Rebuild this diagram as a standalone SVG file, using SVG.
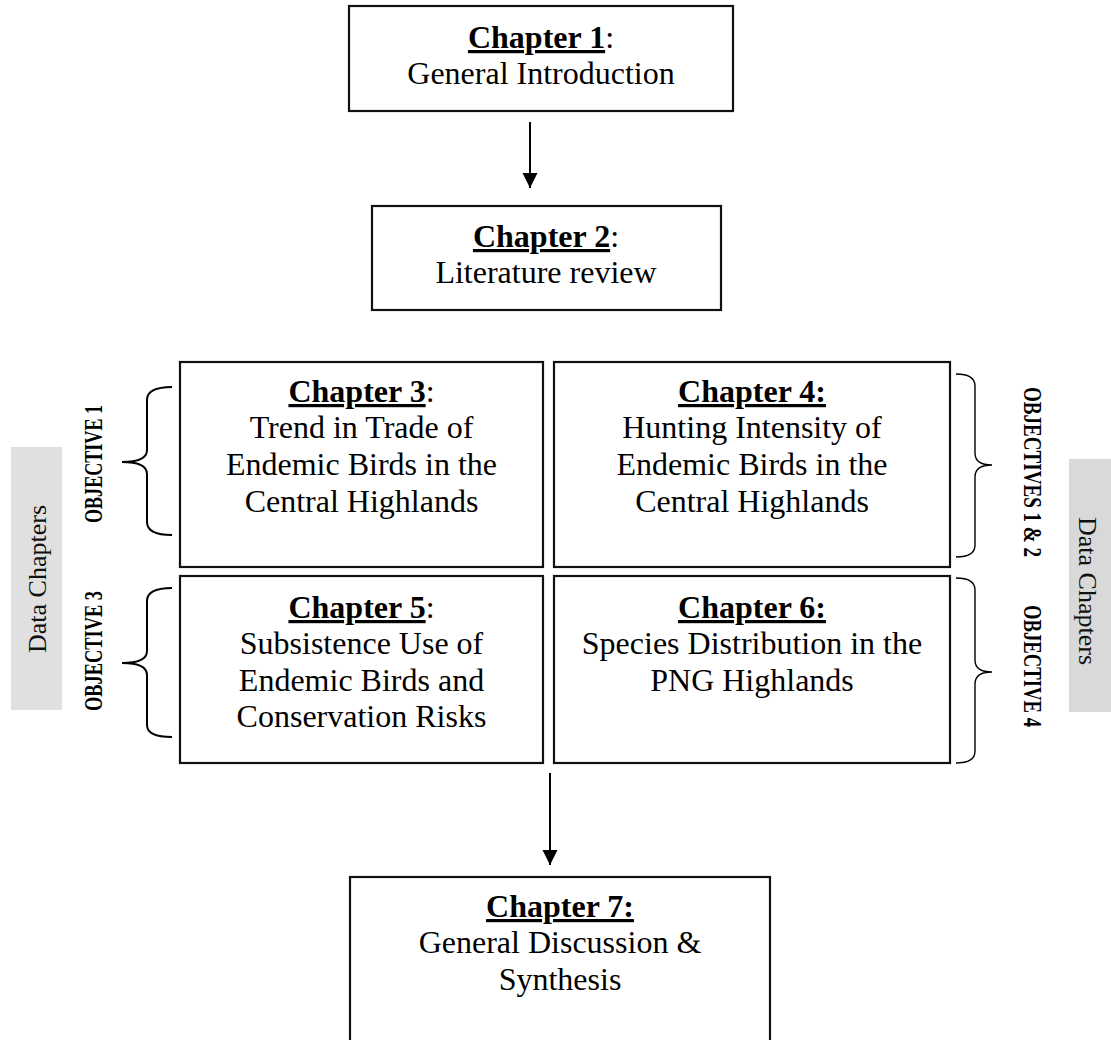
<svg xmlns="http://www.w3.org/2000/svg" width="1111" height="1040" viewBox="0 0 1111 1040">
<defs>
<marker id="ah" markerUnits="userSpaceOnUse" markerWidth="16" markerHeight="16" refX="15" refY="7.5" orient="auto">
<path d="M0,0 L15,7.5 L0,15 z" fill="#000"/>
</marker>
<style>
.box{fill:#fff;stroke:#111;stroke-width:2.2}
.t{font-family:"Liberation Serif","Times New Roman",serif;font-size:32px;fill:#000;text-anchor:middle}
.h{font-weight:bold;text-decoration:underline}
.obj{font-family:"Liberation Serif","Times New Roman",serif;font-weight:bold;font-size:25px;fill:#000;text-anchor:middle}
.dc{font-family:"Liberation Serif","Times New Roman",serif;font-size:26px;fill:#111;text-anchor:middle}
.br{fill:none;stroke:#000;stroke-width:2}
.brr{fill:none;stroke:#000;stroke-width:1.4}
.conn{stroke:#000;stroke-width:2;fill:none}
</style>
</defs>
<rect width="1111" height="1040" fill="#fff"/>

<g id="ch1">
<rect class="box" x="349" y="6" width="384" height="105"/>
<text class="t" x="541" y="48"><tspan class="h">Chapter 1</tspan>:</text>
<text class="t" x="541" y="84">General Introduction</text>
</g>

<g id="ch2">
<rect class="box" x="372" y="206" width="349" height="104"/>
<text class="t" x="546" y="247"><tspan class="h">Chapter 2</tspan>:</text>
<text class="t" x="546" y="283">Literature review</text>
</g>

<g id="ch3">
<rect class="box" x="180" y="362" width="363" height="205"/>
<text class="t" x="361.5" y="402"><tspan class="h">Chapter 3</tspan>:</text>
<text class="t" x="361.5" y="438">Trend in Trade of</text>
<text class="t" x="361.5" y="475">Endemic Birds in the</text>
<text class="t" x="361.5" y="512">Central Highlands</text>
</g>

<g id="ch4">
<rect class="box" x="554" y="362" width="396" height="205"/>
<text class="t" x="752" y="402"><tspan class="h">Chapter 4:</tspan></text>
<text class="t" x="752" y="438">Hunting Intensity of</text>
<text class="t" x="752" y="475">Endemic Birds in the</text>
<text class="t" x="752" y="512">Central Highlands</text>
</g>

<g id="ch5">
<rect class="box" x="180" y="576" width="363" height="187"/>
<text class="t" x="361.5" y="618"><tspan class="h">Chapter 5</tspan>:</text>
<text class="t" x="361.5" y="654">Subsistence Use of</text>
<text class="t" x="361.5" y="691">Endemic Birds and</text>
<text class="t" x="361.5" y="727">Conservation Risks</text>
</g>

<g id="ch6">
<rect class="box" x="554" y="576" width="396" height="187"/>
<text class="t" x="752" y="618"><tspan class="h">Chapter 6:</tspan></text>
<text class="t" x="752" y="654">Species Distribution in the</text>
<text class="t" x="752" y="691">PNG Highlands</text>
</g>

<g id="ch7">
<rect class="box" x="350" y="877" width="420" height="200"/>
<text class="t" x="560" y="917"><tspan class="h">Chapter 7:</tspan></text>
<text class="t" x="560" y="953">General Discussion &amp;</text>
<text class="t" x="560" y="990">Synthesis</text>
</g>

<g id="obj-left">
<path class="br" d="M172,387 Q147,387 147,400 L147,450 Q147,462 122,462 Q147,462 147,474 L147,522 Q147,535 172,535"/>
<text class="obj" transform="translate(93,464) rotate(-90)" y="8.5" textLength="118" lengthAdjust="spacingAndGlyphs">OBJECTIVE 1</text>
<path class="br" d="M172,588 Q147,588 147,601 L147,651 Q147,663 122,663 Q147,663 147,675 L147,725 Q147,737 172,737"/>
<text class="obj" transform="translate(93,651) rotate(-90)" y="8.5" textLength="120" lengthAdjust="spacingAndGlyphs">OBJECTIVE 3</text>
</g>

<g id="obj-right">
<path class="brr" d="M956,374 Q975,374 975,386 L975,453 Q975,465 992,465 Q975,465 975,477 L975,545 Q975,557 956,557"/>
<text class="obj" transform="translate(1032,472) rotate(90)" y="8.5" textLength="170" lengthAdjust="spacingAndGlyphs">OBJECTIVES 1 &amp; 2</text>
<path class="brr" d="M956,578 Q975,578 975,590 L975,660 Q975,672 992,672 Q975,672 975,684 L975,751 Q975,763 956,763"/>
<text class="obj" transform="translate(1032,666) rotate(90)" y="8.5" textLength="122" lengthAdjust="spacingAndGlyphs">OBJECTIVE 4</text>
</g>

<g id="data-left">
<rect x="11" y="447" width="51" height="263" fill="#e0e0e0"/>
<text class="dc" transform="translate(37,579) rotate(-90)" y="9">Data Chapters</text>
</g>

<g id="data-right">
<rect x="1069" y="459" width="42" height="253" fill="#d9d9d9"/>
<text class="dc" transform="translate(1088,591) rotate(90)" y="9">Data Chapters</text>
</g>

<g id="connectors">
<line class="conn" x1="530" y1="122" x2="530" y2="188" marker-end="url(#ah)"/>
<line class="conn" x1="550" y1="773" x2="550" y2="865" marker-end="url(#ah)"/>
</g>
</svg>
